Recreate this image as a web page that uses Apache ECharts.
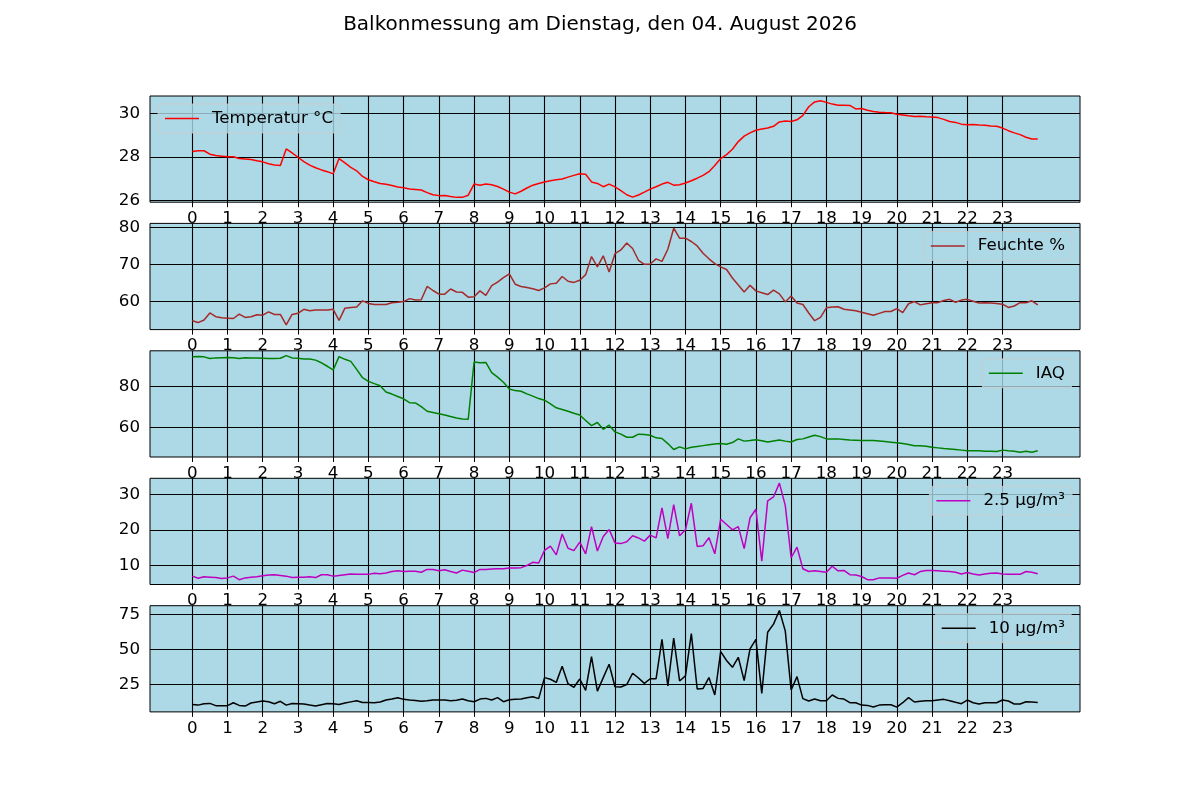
<!DOCTYPE html>
<html lang="de">
<head>
<meta charset="utf-8">
<title>Balkonmessung</title>
<script src="https://cdn.jsdelivr.net/npm/echarts@6/dist/echarts.min.js"></script>
<style>
html, body { margin: 0; padding: 0; background: #fff; }
#chart { width: 1200px; height: 800px; }
</style>
</head>
<body>
<div id="chart"></div>
<script>
// Messwerte alle 10 Minuten, 00:00 bis 24:00 (145 Werte)
var temperatur = [
	28.25,28.28,28.28,28.12,28.06,28.03,28.00,28.00,27.92,27.90,
	27.88,27.82,27.77,27.68,27.63,27.60,28.36,28.18,27.98,27.78,
	27.62,27.50,27.40,27.32,27.22,27.92,27.72,27.52,27.36,27.10,
	26.95,26.86,26.78,26.74,26.68,26.62,26.58,26.52,26.50,26.48,
	26.36,26.26,26.22,26.23,26.18,26.14,26.14,26.24,26.75,26.70,
	26.75,26.72,26.64,26.52,26.38,26.30,26.42,26.57,26.70,26.78,
	26.85,26.90,26.95,26.98,27.07,27.15,27.22,27.20,26.85,26.78,
	26.63,26.75,26.62,26.45,26.26,26.15,26.25,26.38,26.52,26.63,
	26.75,26.83,26.70,26.72,26.80,26.90,27.02,27.15,27.32,27.60,
	27.92,28.10,28.35,28.70,28.95,29.10,29.22,29.28,29.32,29.40,
	29.60,29.64,29.62,29.70,29.90,30.30,30.52,30.57,30.50,30.42,
	30.37,30.37,30.36,30.20,30.22,30.14,30.08,30.05,30.03,30.02,
	29.95,29.92,29.88,29.85,29.86,29.84,29.83,29.80,29.72,29.62,
	29.58,29.50,29.47,29.48,29.46,29.45,29.42,29.40,29.32,29.20,
	29.10,29.02,28.90,28.82,28.82
];
var feuchte = [
	54.7,54.2,54.9,56.8,55.8,55.5,55.4,55.3,56.5,55.6,
	55.8,56.3,56.2,57.1,56.4,56.4,53.6,56.4,56.7,57.8,
	57.4,57.6,57.6,57.6,57.8,54.8,58.1,58.3,58.4,60.1,
	59.4,59.1,59.1,59.1,59.6,59.7,59.9,60.7,60.3,60.4,
	64.0,62.9,61.9,61.9,63.3,62.5,62.4,61.1,61.2,62.8,
	61.6,64.2,65.2,66.4,67.4,64.6,64.0,63.7,63.4,62.9,
	63.6,64.7,64.9,66.7,65.4,65.1,65.7,67.2,72.1,69.3,
	72.3,67.9,72.9,73.9,75.8,74.3,71.1,70.0,70.1,71.5,
	70.8,74.1,79.8,77.1,77.1,76.2,75.0,73.0,71.5,70.2,
	69.3,68.6,66.3,64.4,62.5,64.3,62.8,62.3,61.8,63.0,
	62.0,59.8,61.4,59.5,59.1,56.8,54.7,55.6,58.2,58.4,
	58.5,57.8,57.6,57.4,57.0,56.6,56.2,56.7,57.2,57.2,
	58.0,56.9,59.3,59.9,59.0,59.3,59.6,59.6,60.2,60.5,
	59.7,60.3,60.5,60.0,59.5,59.6,59.5,59.4,59.2,58.3,
	58.7,59.6,59.6,60.1,59.0
];
var iaq = [
	94.5,94.6,94.4,93.6,93.9,94.0,94.1,94.0,93.6,94.0,
	93.9,93.8,93.7,93.6,93.6,93.7,95.0,93.9,93.7,93.4,
	93.3,92.8,91.5,89.8,88.0,94.5,93.2,92.2,88.3,84.2,
	82.4,81.3,80.3,77.2,76.2,75.0,73.9,72.0,71.9,70.1,
	67.8,67.2,66.6,66.0,65.2,64.5,64.0,63.9,91.9,91.5,
	91.7,86.7,84.5,82.0,78.7,77.9,77.6,76.3,75.2,74.0,
	73.2,71.4,69.5,68.7,67.8,66.8,66.0,63.3,60.8,62.3,
	59.0,61.0,57.7,56.6,55.1,55.1,56.6,56.4,56.1,54.8,
	54.5,52.0,49.1,50.4,49.4,50.2,50.6,51.0,51.4,51.8,
	52.0,51.7,52.5,54.3,53.2,53.5,53.9,53.4,52.8,53.3,
	53.8,53.2,52.8,54.0,54.3,55.2,56.1,55.4,54.3,54.3,
	54.3,54.0,53.7,53.6,53.5,53.5,53.5,53.3,53.0,52.7,
	52.4,52.0,51.6,50.9,50.9,50.7,50.2,49.9,49.6,49.4,
	49.1,48.8,48.5,48.5,48.5,48.3,48.2,48.1,48.8,48.5,
	48.3,47.8,48.3,47.8,48.5
];
var pm25 = [
	6.9,6.3,6.7,6.6,6.5,6.2,6.4,6.9,5.9,6.4,
	6.6,6.7,7.0,7.2,7.3,7.1,6.9,6.5,6.6,6.6,
	6.7,6.5,7.3,7.3,6.9,7.1,7.3,7.5,7.4,7.4,
	7.4,7.7,7.6,7.8,8.2,8.4,8.2,8.3,8.3,8.0,
	8.8,8.8,8.4,8.7,8.2,7.8,8.6,8.3,7.9,8.8,
	8.8,8.9,9.0,9.0,9.2,9.2,9.3,9.9,10.8,10.6,
	14.2,15.4,12.9,18.8,14.8,14.1,16.5,13.2,20.9,14.0,
	18.1,20.1,16.3,16.1,16.6,18.3,17.7,16.8,18.5,17.7,
	26.2,17.5,27.1,18.3,20.0,27.5,15.3,15.5,17.8,13.2,
	23.0,21.5,20.0,20.9,14.7,23.4,25.8,11.1,28.2,29.3,
	33.2,26.9,12.1,15.1,9.0,8.2,8.4,8.2,8.0,9.7,
	8.4,8.5,7.3,7.2,6.8,5.9,5.9,6.4,6.4,6.4,
	6.3,7.1,7.8,7.3,8.2,8.5,8.5,8.4,8.3,8.2,
	8.0,7.5,7.9,7.5,7.2,7.5,7.7,7.8,7.5,7.4,
	7.4,7.4,8.2,8.0,7.6
];
var pm10 = [
	10.7,10.2,11.2,11.4,9.8,9.8,9.8,11.9,10.0,9.5,
	11.7,12.4,13.1,12.6,11.2,12.9,10.2,11.4,11.2,11.0,
	10.2,9.5,10.5,11.4,11.2,10.7,11.7,12.5,13.3,12.1,
	12.0,11.9,12.4,13.8,14.6,15.5,14.3,13.8,13.4,12.9,
	13.3,13.8,13.8,13.8,13.3,13.6,14.5,13.3,12.6,14.5,
	15.0,13.8,15.5,12.6,14.0,14.3,14.6,15.5,16.2,14.8,
	29.8,28.6,26.4,37.9,25.5,22.9,28.8,20.7,44.8,20.2,
	29.8,39.3,23.3,23.1,24.8,32.9,29.5,25.7,29.0,29.0,
	57.1,23.8,57.9,27.4,31.0,61.2,21.7,22.1,29.8,17.4,
	48.3,42.0,37.1,44.3,27.6,50.2,57.1,18.6,62.1,67.9,
	77.6,63.1,21.0,30.5,14.8,13.1,14.5,13.3,13.3,17.4,
	15.0,14.5,11.9,11.9,10.2,10.0,8.8,10.2,10.4,10.5,
	8.8,11.9,15.5,12.4,13.0,13.3,13.3,13.8,14.3,13.3,
	12.2,11.2,13.8,11.9,11.0,11.9,11.9,11.9,13.8,13.1,
	11.0,11.0,12.6,12.4,12.1
];

// Achsenbeschriftungen
var stunden = [0,1,2,3,4,5,6,7,8,9,10,11,12,13,14,15,16,17,18,19,20,21,22,23];
var tickTemp = [26,28,30];
var tickFeuchte = [60,70,80];
var tickIaq = [60,80];
var tickPm25 = [10,20,30];
var tickPm10 = [25,50,75];

var schrift = 'DejaVu Sans';
var zeit = temperatur.map(function(v, i){ return i / 6; });

// 5% Rand wie bei matplotlib
function grenzen(werte){
	var lo = Math.min.apply(null, werte), hi = Math.max.apply(null, werte);
	var rand = (hi - lo) * 0.05;
	return [lo - rand, hi + rand];
}
function paare(werte){
	return werte.map(function(v, i){ return [zeit[i], v]; });
}

var P = [
	{name:'Temperatur °C', werte:temperatur, ticks:tickTemp, farbe:'#ff0000', links:true},
	{name:'Feuchte %', werte:feuchte, ticks:tickFeuchte, farbe:'#a52a2a'},
	{name:'IAQ', werte:iaq, ticks:tickIaq, farbe:'#008000'},
	{name:'2.5 µg/m³', werte:pm25, ticks:tickPm25, farbe:'#bf00bf'},
	{name:'10 µg/m³', werte:pm10, ticks:tickPm10, farbe:'#000000'}
];
var oben = [96, 223.4, 350.8, 478.3, 605.7];
var hoehe = 106.2;

var xSpanne = zeit[zeit.length - 1] - zeit[0];
var xMin = zeit[0] - xSpanne * 0.05, xMax = zeit[zeit.length - 1] + xSpanne * 0.05;

var grids = [], xAxes = [], yAxes = [], series = [], legends = [];
P.forEach(function(p, i){
	var g = grenzen(p.werte);
	grids.push({
		left:150, width:930, top:oben[i], height:hoehe,
		show:true, backgroundColor:'#add8e6', borderColor:'#000', borderWidth:1
	});
	xAxes.push({
		type:'value', gridIndex:i, min:xMin, max:xMax,
		axisLine:{show:false},
		axisTick:{show:true, length:5, lineStyle:{color:'#000', width:1}, customValues:stunden},
		axisLabel:{customValues:stunden, color:'#000', fontSize:16.7, fontFamily:schrift, margin:8},
		splitLine:{show:true, lineStyle:{color:'#000', width:1.1}}
	});
	yAxes.push({
		type:'value', gridIndex:i, min:g[0], max:g[1],
		axisLine:{show:false},
		axisTick:{show:true, length:5, lineStyle:{color:'#000', width:1}, customValues:p.ticks},
		axisLabel:{customValues:p.ticks, color:'#000', fontSize:16.7, fontFamily:schrift, margin:10},
		splitLine:{show:true, lineStyle:{color:'#000', width:1.1}}
	});
	series.push({
		name:p.name, type:'line', xAxisIndex:i, yAxisIndex:i,
		data:paare(p.werte), symbol:'none', showSymbol:false,
		lineStyle:{color:p.farbe, width:1.5}, itemStyle:{color:p.farbe},
		z:5
	});
	var leg = {
		data:[p.name], top:oben[i] + 8, orient:'horizontal',
		icon:'rect', itemWidth:34, itemHeight:1.5, padding:[6, 7, 6, 7],
		backgroundColor:'rgba(173,216,230,0.8)', borderColor:'rgba(204,204,204,0.8)',
		borderWidth:1, borderRadius:3,
		textStyle:{color:'#000', fontSize:16.7, fontFamily:schrift, lineHeight:17, padding:[0,0,0,8]}
	};
	if (p.links) { leg.left = 158; } else { leg.right = 128; }
	legends.push(leg);
});

var chart = echarts.init(document.getElementById('chart'));
chart.setOption({
	animation:false,
	backgroundColor:'#fff',
	title:{
		text:'Balkonmessung am Dienstag, den 04. August 2026',
		left:'center', top:10,
		textStyle:{color:'#000', fontSize:20, fontWeight:'normal', fontFamily:schrift}
	},
	grid:grids,
	xAxis:xAxes,
	yAxis:yAxes,
	legend:legends,
	series:series
});
</script>
</body>
</html>
